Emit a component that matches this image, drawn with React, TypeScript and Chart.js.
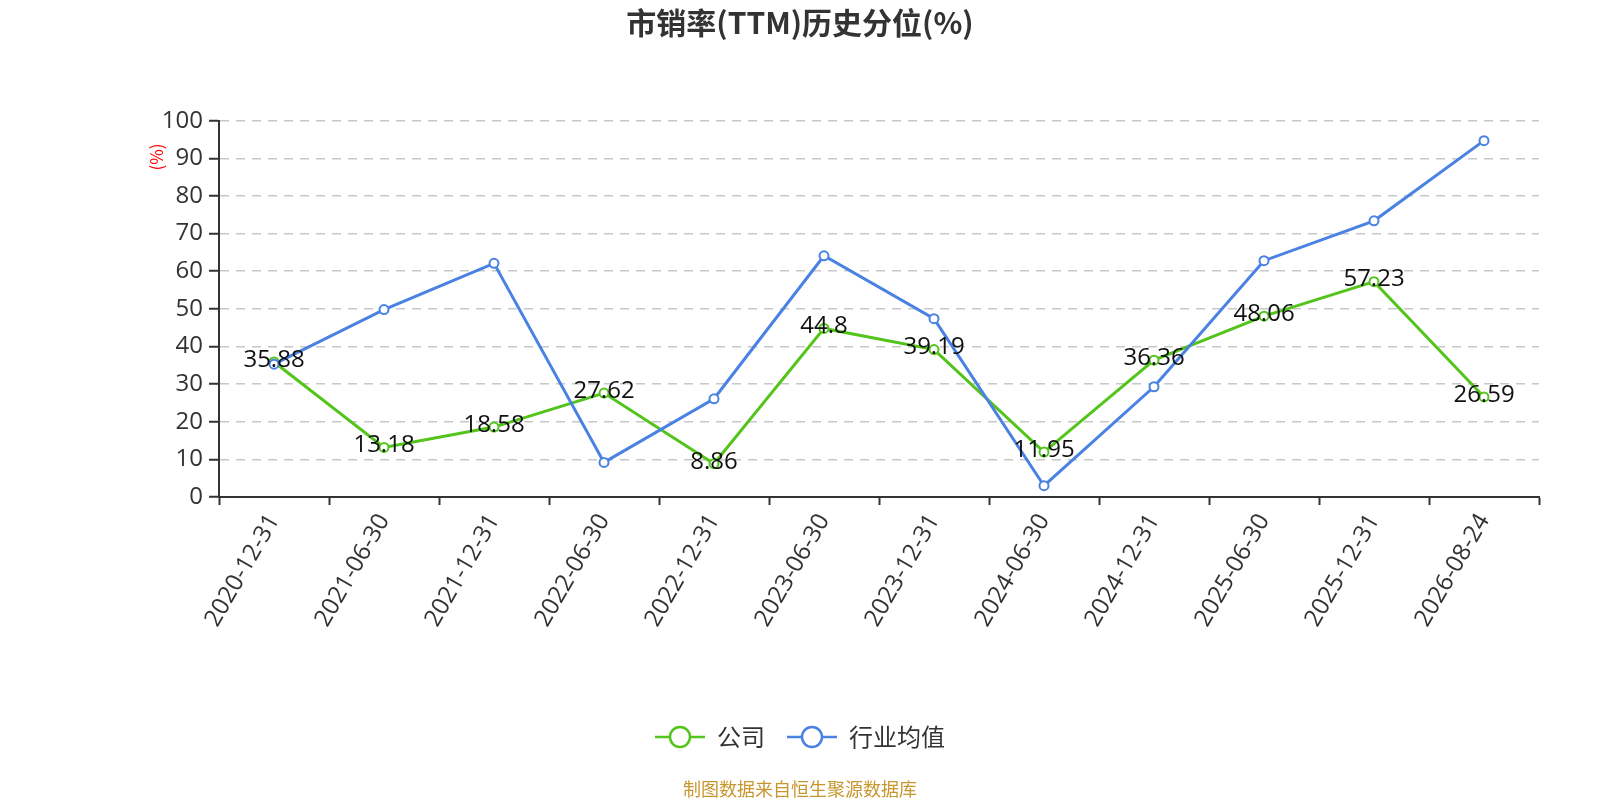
import { useEffect, useRef } from 'react';
import { Chart, registerables } from 'chart.js';

Chart.register(...registerables);

const FONT = '"Noto Sans CJK SC", "Noto Sans", sans-serif';
const NUM_FONT = '"Open Sans", "Noto Sans CJK SC", sans-serif';

const categories = [
  '2020-12-31', '2021-06-30', '2021-12-31', '2022-06-30', '2022-12-31', '2023-06-30',
  '2023-12-31', '2024-06-30', '2024-12-31', '2025-06-30', '2025-12-31', '2026-08-24',
];
const companyValues = [35.88, 13.18, 18.58, 27.62, 8.86, 44.8, 39.19, 11.95, 36.36, 48.06, 57.23, 26.59];
const industryValues = [35.3, 49.8, 62.1, 9.2, 26.1, 64.1, 47.4, 3.0, 29.3, 62.8, 73.4, 94.7];
const seriesNames = ['公司', '行业均值'];

const yMin = 0;
const yMax = 100;
const yStep = 10;

const GREEN = '#52c41a';
const BLUE = '#4a82e3';

// legend icon: short line with a hollow circle in the middle
function makeIcon(color: string) {
  const c = document.createElement('canvas');
  c.width = 50;
  c.height = 26;
  const ctx = c.getContext('2d')!;
  ctx.strokeStyle = color;
  ctx.lineWidth = 2.5;
  ctx.beginPath();
  ctx.moveTo(0, 13);
  ctx.lineTo(50, 13);
  ctx.stroke();
  ctx.beginPath();
  ctx.arc(25, 13, 10, 0, Math.PI * 2);
  ctx.fillStyle = '#fff';
  ctx.fill();
  ctx.stroke();
  return c;
}

const extrasPlugin = {
  id: 'extras',
  afterDatasetsDraw(chart: any) {
    const { ctx } = chart;
    const meta = chart.getDatasetMeta(0);
    ctx.save();
    ctx.font = `24px ${NUM_FONT}`;
    ctx.fillStyle = '#111';
    ctx.textAlign = 'center';
    ctx.textBaseline = 'middle';
    meta.data.forEach((pt: any, i: number) => {
      ctx.fillText(String(companyValues[i]), pt.x, pt.y - 2);
    });
    ctx.restore();
  },
  afterDraw(chart: any) {
    const { ctx, width } = chart;
    ctx.save();
    // y axis unit
    ctx.translate(157, 157);
    ctx.rotate(-Math.PI / 2);
    ctx.font = `17px ${FONT}`;
    ctx.fillStyle = '#ff0000';
    ctx.textAlign = 'center';
    ctx.textBaseline = 'middle';
    ctx.fillText('(%)', 0, 0);
    ctx.restore();

    ctx.save();
    ctx.font = `18px ${FONT}`;
    ctx.fillStyle = '#c8962e';
    ctx.textAlign = 'center';
    ctx.textBaseline = 'middle';
    ctx.fillText('制图数据来自恒生聚源数据库', width / 2, 789);
    ctx.restore();
  },
};

export default function App() {
  const canvasRef = useRef<HTMLCanvasElement | null>(null);

  useEffect(() => {
    if (!canvasRef.current) return;
    Chart.defaults.font.family = FONT;
    const icons = [makeIcon(GREEN), makeIcon(BLUE)];

    const chart = new Chart(canvasRef.current, {
      type: 'line',
      data: {
        labels: categories,
        datasets: [
          {
            label: seriesNames[0],
            data: companyValues,
            borderColor: GREEN,
            backgroundColor: '#fff',
            borderWidth: 3,
            pointRadius: 4.5,
            pointBorderWidth: 2,
            pointBackgroundColor: '#fff',
            pointBorderColor: GREEN,
            order: 1,
          },
          {
            label: seriesNames[1],
            data: industryValues,
            borderColor: BLUE,
            backgroundColor: '#fff',
            borderWidth: 3,
            pointRadius: 4.5,
            pointBorderWidth: 2,
            pointBackgroundColor: '#fff',
            pointBorderColor: BLUE,
            order: 0,
          },
        ],
      },
      options: {
        responsive: false,
        animation: false,
        layout: { padding: { left: 0, right: 0, top: 0, bottom: 41 } },
        plugins: {
          title: {
            display: true,
            text: '市销率(TTM)历史分位(%)',
            color: '#333',
            font: { size: 30, weight: 'bold', family: FONT },
            padding: { top: 5, bottom: 79.7 },
          },
          legend: {
            position: 'bottom',
            labels: {
              usePointStyle: true,
              pointStyleWidth: 50,
              padding: 22,
              color: '#333',
              font: { size: 24, family: FONT },
              sort: (a: any, b: any) => a.datasetIndex - b.datasetIndex,
              generateLabels: (ch: any) =>
                ch.data.datasets.map((ds: any, i: number) => ({
                  text: ds.label,
                  pointStyle: icons[i],
                  fillStyle: '#fff',
                  strokeStyle: ds.borderColor,
                  lineWidth: 0,
                  fontColor: '#333',
                  hidden: false,
                  datasetIndex: i,
                })),
            },
          },
          tooltip: { enabled: false },
        },
        scales: {
          x: {
            type: 'category',
            offset: true,
            grid: {
              offset: true,
              drawOnChartArea: false,
              tickLength: 8,
              tickColor: '#333',
              tickWidth: 2,
            },
            border: { display: true, color: '#333', width: 2 },
            ticks: {
              autoSkip: false,
              maxRotation: 60,
              minRotation: 60,
              padding: 4,
              color: '#333',
              font: { size: 24, family: NUM_FONT },
            },
            afterFit: (s: any) => {
              s.height = 206;
            },
          },
          y: {
            min: yMin,
            max: yMax,
            ticks: {
              stepSize: yStep,
              padding: 6,
              color: '#333',
              font: { size: 24, family: NUM_FONT },
            },
            grid: {
              color: '#c8c8c8',
              lineWidth: 1.5,
              tickLength: 10,
              tickColor: '#333',
              tickWidth: 2,
              tickBorderDash: [],
            },
            border: { display: true, color: '#333', width: 2, dash: [9, 7] },
            afterFit: (s: any) => {
              s.width = 219;
            },
          },
          yRight: {
            position: 'right',
            display: true,
            grid: { display: false, drawTicks: false },
            border: { display: false },
            ticks: { display: false },
            afterFit: (s: any) => {
              s.width = 61;
            },
          },
        },
      },
      plugins: [extrasPlugin],
    } as any);

    return () => chart.destroy();
  }, []);

  return (
    <div style={{ position: 'fixed', left: 0, top: 0, width: 1600, height: 800, background: '#fff' }}>
      <canvas ref={canvasRef} width={1600} height={800} />
    </div>
  );
}
